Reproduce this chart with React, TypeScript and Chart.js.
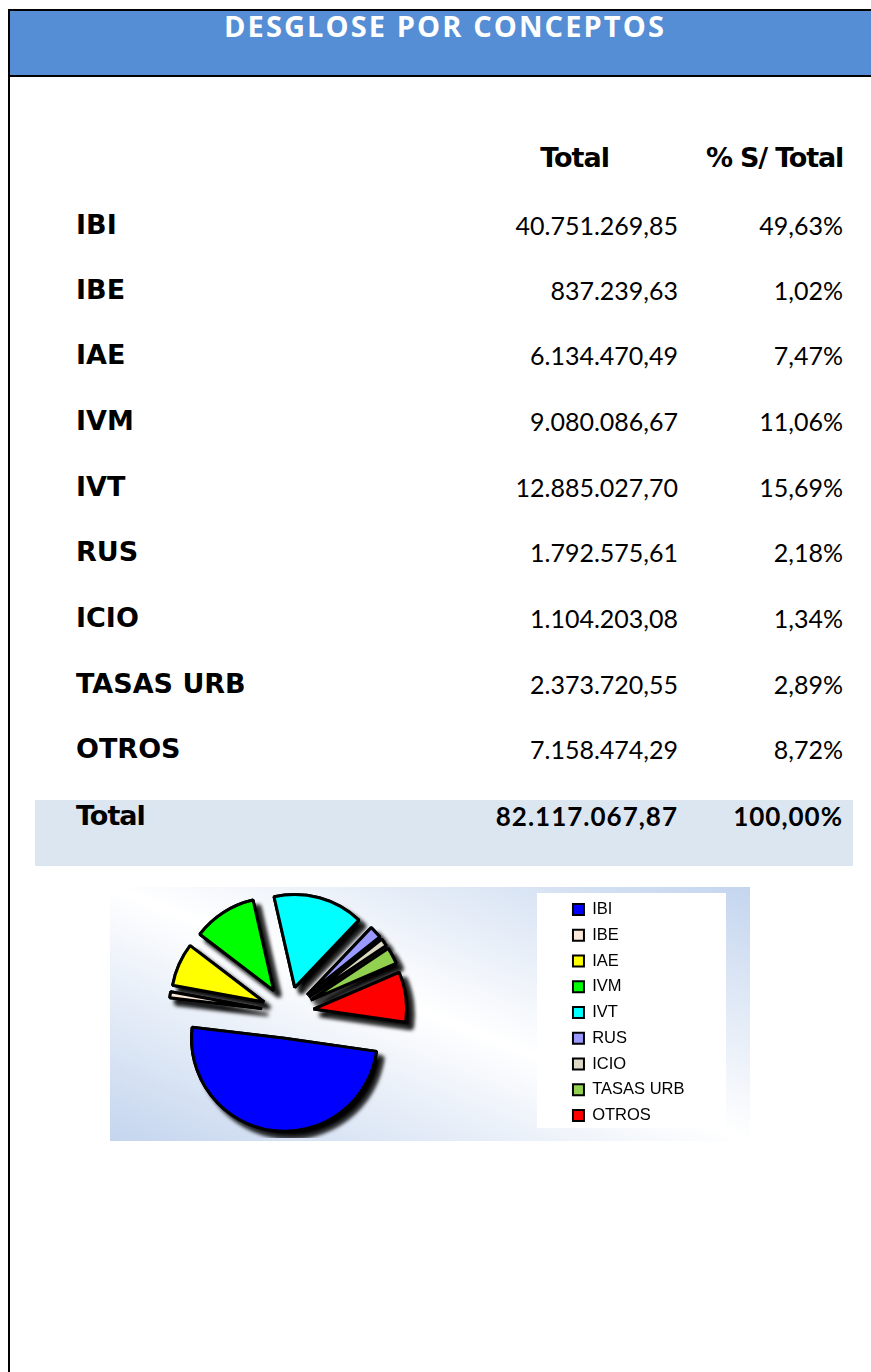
import React, { useEffect, useRef } from "react";
import { Chart } from "chart.js/auto";

const TITLE = "DESGLOSE POR CONCEPTOS";
const HEAD_TOTAL = "Total";
const HEAD_PCT = "% S/ Total";
const CONCEPTS = ["IBI", "IBE", "IAE", "IVM", "IVT", "RUS", "ICIO", "TASAS URB", "OTROS"];
const TOTALS = [40751269.85, 837239.63, 6134470.49, 9080086.67, 12885027.7, 1792575.61, 1104203.08, 2373720.55, 7158474.29];
const TOTAL_TEXT = ["40.751.269,85", "837.239,63", "6.134.470,49", "9.080.086,67", "12.885.027,70", "1.792.575,61", "1.104.203,08", "2.373.720,55", "7.158.474,29"];
const PCT_TEXT = ["49,63%", "1,02%", "7,47%", "11,06%", "15,69%", "2,18%", "1,34%", "2,89%", "8,72%"];
const GRAND_LABEL = "Total";
const GRAND_TOTAL = "82.117.067,87";
const GRAND_PCT = "100,00%";
const COLORS = ["#0000FF", "#FDE9D9", "#FFFF00", "#00FF00", "#00FFFF", "#9999FF", "#DDD9C3", "#92D050", "#FF0000"];
const EXPLODE = [26, 26, 26, 26, 26, 26, 26, 26, 26];

const ROW_CENTERS = [225, 290, 355, 421, 487, 552, 618, 684, 749];
const HEAD_CENTER = 158;
const GRAND_CENTER = 816;

const LABEL_FONT = "'DejaVu Sans', sans-serif";
const NUM_FONT = "Lato, 'Noto Sans', sans-serif";

const shadowPlugin = {
  id: "explodeShadow",
  beforeDatasetsDraw(chart: any) {
    const ctx = chart.ctx;
    const arcs = chart.getDatasetMeta(0).data;
    const drawAll = () => {
      arcs.forEach((arc: any, i: number) => {
        const mid = (arc.startAngle + arc.endAngle) / 2;
        const e = EXPLODE[i];
        ctx.save();
        ctx.translate(Math.cos(mid) * e, Math.sin(mid) * e);
        arc.draw(ctx);
        ctx.restore();
      });
    };
    ctx.save();
    ctx.shadowColor = "rgba(0,0,0,1)";
    ctx.shadowBlur = 4;
    ctx.shadowOffsetX = 6;
    ctx.shadowOffsetY = 6;
    drawAll();
    ctx.restore();
    drawAll();
    return false;
  },
};

function PieChart() {
  const ref = useRef<HTMLCanvasElement | null>(null);
  useEffect(() => {
    if (!ref.current) return;
    const chart = new Chart(ref.current, {
      type: "pie",
      data: {
        labels: CONCEPTS,
        datasets: [
          {
            data: TOTALS,
            backgroundColor: COLORS,
            borderColor: "#000000",
            borderWidth: 3,
          },
        ],
      },
      options: {
        responsive: false,
        maintainAspectRatio: false,
        animation: false,
        events: [],
        rotation: 98.1,
        radius: 93,
        layout: { padding: { left: 0, right: 55.5, top: 0, bottom: 0 } },
        plugins: {
          tooltip: { enabled: false },
          legend: {
            position: "right",
            labels: {
              boxWidth: 11,
              boxHeight: 11,
              padding: 9.25,
              color: "#000000",
              font: { family: "'Liberation Sans', Arial, sans-serif", size: 16.5 },
              generateLabels: () =>
                CONCEPTS.map((text, i) => ({
                  text,
                  fillStyle: COLORS[i],
                  strokeStyle: "#000000",
                  lineWidth: 2,
                  hidden: false,
                  index: i,
                  fontColor: "#000000",
                })),
            },
          },
        },
      } as any,
      plugins: [shadowPlugin],
    });
    return () => chart.destroy();
  }, []);
  return (
    <canvas
      ref={ref}
      width={738}
      height={251}
      style={{ position: "absolute", left: 12, top: 887, width: 738, height: 251 }}
    />
  );
}

const abs = (o: React.CSSProperties): React.CSSProperties => ({ position: "absolute", ...o });

const GLOBAL_CSS =
  "html,body{overflow:hidden !important;scrollbar-width:none;margin:0;padding:0;}" +
  "::-webkit-scrollbar{display:none;width:0;height:0;}";

export default function App() {
  const rowTop = (c: number) => c - 16;
  const labelStyle = (c: number): React.CSSProperties =>
    abs({ left: 76, top: rowTop(c), lineHeight: "32px", fontFamily: LABEL_FONT, fontWeight: 700, fontSize: 27, color: "#000", whiteSpace: "nowrap" });
  const valStyle = (c: number, right: number, bold = false): React.CSSProperties =>
    abs({
      right,
      top: rowTop(c),
      lineHeight: "32px",
      fontFamily: NUM_FONT,
      fontWeight: bold ? 700 : 400,
      fontSize: bold ? 26 : 25,
      letterSpacing: bold ? 1 : 0,
      color: "#000",
      whiteSpace: "nowrap",
      textAlign: "right",
    });
  return (
    <div
      style={{
        position: "relative",
        width: 871,
        height: 1372,
        overflow: "hidden",
      }}
    >
      <style>{GLOBAL_CSS}</style>
      <div style={abs({ left: 8, top: 9, width: 863, height: 2, background: "#000" })} />
      <div style={abs({ left: 8, top: 9, width: 2, height: 1363, background: "#000" })} />
      <div style={abs({ left: 10, top: 11, width: 861, height: 64, background: "#558ED5" })} />
      <div style={abs({ left: 10, top: 75, width: 861, height: 2, background: "#000" })} />
      <div
        style={abs({
          left: 19,
          width: 852,
          top: 11,
          lineHeight: "30px",
          textAlign: "center",
          color: "#fff",
          fontFamily: "'Open Sans', sans-serif",
          fontWeight: 700,
          fontSize: 29,
          letterSpacing: 2.1,
          whiteSpace: "nowrap",
        })}
      >
        {TITLE}
      </div>

      <div style={abs({ right: 262, top: rowTop(HEAD_CENTER), lineHeight: "32px", fontFamily: LABEL_FONT, fontWeight: 700, fontSize: 27, letterSpacing: -1, whiteSpace: "nowrap" })}>
        {HEAD_TOTAL}
      </div>
      <div style={abs({ right: 28, top: rowTop(HEAD_CENTER), lineHeight: "32px", fontFamily: LABEL_FONT, fontWeight: 700, fontSize: 27, letterSpacing: -1.2, whiteSpace: "nowrap" })}>
        {HEAD_PCT}
      </div>

      {CONCEPTS.map((c, i) => (
        <React.Fragment key={c}>
          <div style={labelStyle(ROW_CENTERS[i])}>{c}</div>
          <div style={valStyle(ROW_CENTERS[i], 193)}>{TOTAL_TEXT[i]}</div>
          <div style={valStyle(ROW_CENTERS[i], 28)}>{PCT_TEXT[i]}</div>
        </React.Fragment>
      ))}

      <div style={abs({ left: 35, top: 800, width: 818, height: 66, background: "#DCE6F1" })} />
      <div style={{ ...labelStyle(GRAND_CENTER), letterSpacing: -1 }}>{GRAND_LABEL}</div>
      <div style={valStyle(GRAND_CENTER, 193, true)}>{GRAND_TOTAL}</div>
      <div style={valStyle(GRAND_CENTER, 28, true)}>{GRAND_PCT}</div>

      <div
        style={abs({
          left: 110,
          top: 887,
          width: 640,
          height: 254,
          background: "linear-gradient(to top right, #c4d5ee 0%, #ffffff 50%, #c4d5ee 100%)",
        })}
      />
      <div style={abs({ left: 537, top: 893, width: 189, height: 235, background: "#ffffff" })} />
      <PieChart />
    </div>
  );
}
